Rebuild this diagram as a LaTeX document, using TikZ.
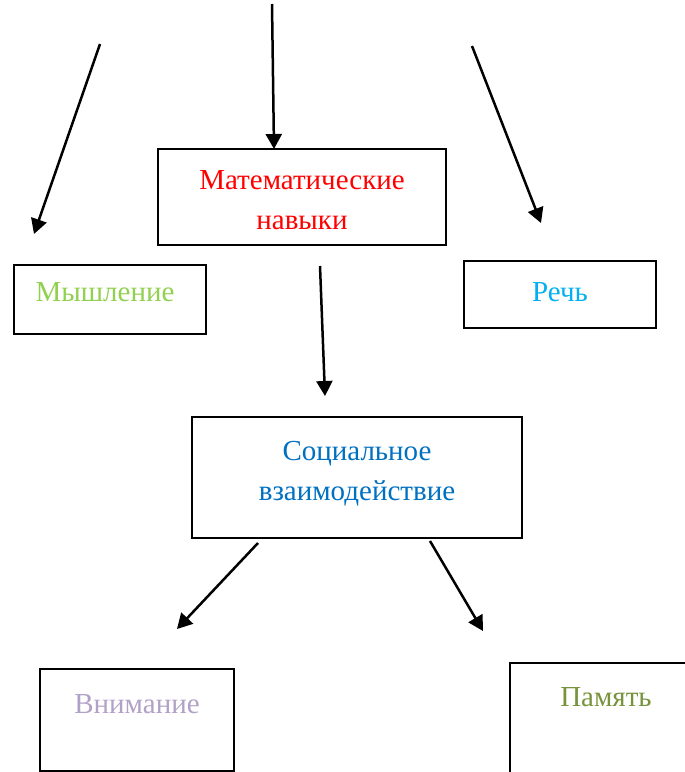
\documentclass[tikz,border=0pt]{standalone}
\usepackage{fontspec}
\setmainfont{Liberation Serif}
\usetikzlibrary{arrows.meta,positioning}
\definecolor{mathcolor}{RGB}{255,0,0}
\definecolor{thinkcolor}{RGB}{146,208,80}
\definecolor{speechcolor}{RGB}{0,176,240}
\definecolor{socialcolor}{RGB}{0,112,192}
\definecolor{attentcolor}{RGB}{178,161,199}
\definecolor{memorycolor}{RGB}{119,147,60}
\tikzset{
    skillbox/.style={draw, line width=2pt, inner sep=0pt},
    skilltext/.style={inner sep=0pt, align=center, font=\fontsize{29}{40}\selectfont},
    link/.style={line width=2.5pt, -{Triangle[length=15pt,width=16pt]}}
}

\begin{document}
\begin{tikzpicture}[x=1pt,y=-1pt]
\clip (0,0) rectangle (685,772);
% boxes
\node[skillbox, minimum width=288pt, minimum height=96pt] (math) at (302,197) {};
\node[skillbox, minimum width=192pt, minimum height=69pt] (think) at (110,299.5) {};
\node[skillbox, minimum width=192pt, minimum height=67pt] (speech) at (560,294.5) {};
\node[skillbox, minimum width=330pt, minimum height=121pt] (social) at (357,477.5) {};
\node[skillbox, minimum width=194pt, minimum height=102pt] (attent) at (137,720) {};
\node[skillbox, minimum width=192pt, minimum height=134pt] (memory) at (606,730) {};
% texts
\node[skilltext, text=mathcolor, below=22pt of math.north] (mathtext) {Математические\\навыки};
\node[skilltext, text=thinkcolor, below=18pt of think.north, xshift=-5pt] (thinktext) {Мышление};
\node[skilltext, text=speechcolor, below=22pt of speech.north] (speechtext) {Речь};
\node[skilltext, text=socialcolor, below=25pt of social.north] (socialtext) {Социальное\\взаимодействие};
\node[skilltext, text=attentcolor, below=26pt of attent.north] (attenttext) {Внимание};
\node[skilltext, text=memorycolor, below=25pt of memory.north] (memorytext) {Память};
% arrows
\coordinate (topstart) at (272,4);
\coordinate (topend) at (274,149);
\coordinate (leftstart) at (100,44);
\coordinate (leftend) at (34,234);
\coordinate (rightstart) at (472,46);
\coordinate (rightend) at (541,223);
\coordinate (midstart) at (320,266);
\coordinate (midend) at (325,396);
\coordinate (downlstart) at (258,543);
\coordinate (downlend) at (177,629);
\coordinate (downrstart) at (430,541);
\coordinate (downrend) at (483,631);
\draw[link] (topstart) -- (topend);
\draw[link] (leftstart) -- (leftend);
\draw[link] (rightstart) -- (rightend);
\draw[link] (midstart) -- (midend);
\draw[link] (downlstart) -- (downlend);
\draw[link] (downrstart) -- (downrend);
\end{tikzpicture}
\end{document}
